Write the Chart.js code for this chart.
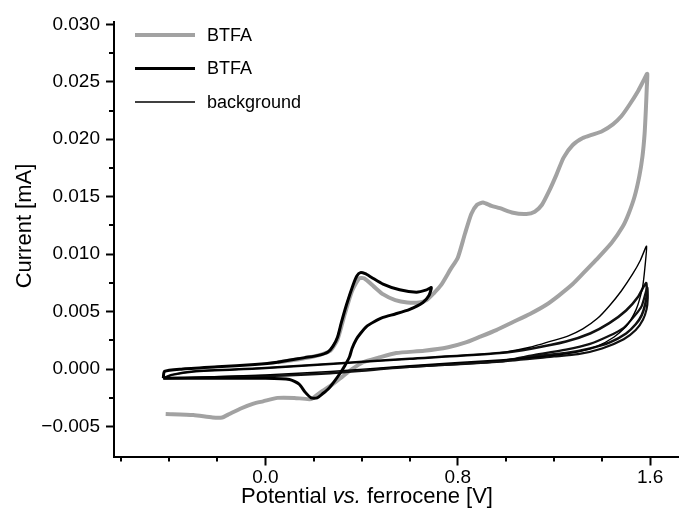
<!DOCTYPE html>
<html>
<head>
<meta charset="utf-8">
<script src="https://cdn.jsdelivr.net/npm/chart.js@4.4.0/dist/chart.umd.min.js"></script>
<style>
  html, body { margin: 0; padding: 0; background: #fff; }
</style>
</head>
<body>
<canvas id="cv" width="679" height="516"></canvas>
<script>
const FONT = '"Liberation Sans", Arial, Helvetica, sans-serif';

// ticks
const xMajorTicks = [0.0, 0.8, 1.6];
const xTickLabels = ["0.0", "0.8", "1.6"];
const xMinorTicks = [-0.6, -0.4, -0.2, 0.2, 0.4, 0.6, 1.0, 1.2, 1.4];
const yMajorTicks = [-0.005, 0.0, 0.005, 0.01, 0.015, 0.02, 0.025, 0.03];
const yTickLabels = ["\u22120.005", "0.000", "0.005", "0.010", "0.015", "0.020", "0.025", "0.030"];
const yMinorTicks = [-0.0025, 0.0025, 0.0075, 0.0125, 0.0175, 0.0225, 0.0275];

// BTFA, full window (grey)
const grayPotential = [0.05, 0.15, 0.22, 0.27, 0.3, 0.33, 0.36, 0.39, 0.41, 0.45, 0.49, 0.54, 0.59, 0.64, 0.67, 0.7, 0.73, 0.77, 0.8, 0.83, 0.856, 0.88, 0.905, 0.94, 0.975, 1.03, 1.085, 1.12, 1.15, 1.18, 1.21, 1.24, 1.278, 1.32, 1.36, 1.4, 1.445, 1.48, 1.514, 1.55, 1.575, 1.588,
  1.586, 1.582, 1.577, 1.568, 1.555, 1.535, 1.51, 1.486, 1.44, 1.375, 1.32, 1.278, 1.22, 1.168, 1.1, 1.03, 0.96, 0.89, 0.83, 0.76, 0.66, 0.544, 0.47, 0.406, 0.36, 0.32, 0.28, 0.23, 0.19, 0.12, 0.05, -0.01, -0.05, -0.1, -0.15, -0.18, -0.22, -0.3, -0.415];
const grayCurrent = [0.0006, 0.0009, 0.0012, 0.0016, 0.0026, 0.0048, 0.0068, 0.0079, 0.0079, 0.0072, 0.0065, 0.006, 0.0058, 0.0058, 0.006, 0.0066, 0.0073, 0.0087, 0.0097, 0.0118, 0.0135, 0.0143, 0.0145, 0.0142, 0.014, 0.0136, 0.0135, 0.0137, 0.0143, 0.0155, 0.0169, 0.0184, 0.0195, 0.0201, 0.0204, 0.0207, 0.0213, 0.022, 0.023, 0.0242, 0.0252, 0.0257,
  0.0245, 0.0225, 0.0205, 0.0185, 0.0168, 0.015, 0.0135, 0.0124, 0.011, 0.0095, 0.0083, 0.0074, 0.0064, 0.0056, 0.0048, 0.0041, 0.0034, 0.0028, 0.0023, 0.0019, 0.0016, 0.0014, 0.001, 0.0006, 0.0, -0.00065, -0.0013, -0.002, -0.0026, -0.0025, -0.0025, -0.0028, -0.003, -0.0034, -0.0039, -0.0042, -0.0042, -0.004, -0.0039];

// BTFA, narrow window (thick black)
const blackPotential = [-0.425, -0.42, -0.35, -0.2, -0.044, 0.05, 0.163, 0.22, 0.26, 0.281, 0.3, 0.315, 0.337, 0.364, 0.38, 0.395, 0.415, 0.44, 0.489, 0.558, 0.628, 0.67, 0.69,
  0.68, 0.655, 0.6, 0.54, 0.489, 0.45, 0.42, 0.395, 0.378, 0.36, 0.35, 0.33, 0.309, 0.285, 0.262, 0.24, 0.215, 0.19, 0.165, 0.14, 0.1, 0.0, -0.2, -0.425];
const blackCurrent = [-0.0008, -0.0002, 0.0, 0.0002, 0.0004, 0.0006, 0.001, 0.0012, 0.0015, 0.002, 0.0028, 0.004, 0.0056, 0.0073, 0.0081, 0.0084, 0.0083, 0.008, 0.0074, 0.0069, 0.0067, 0.0069, 0.0071,
  0.0064, 0.0058, 0.0052, 0.0048, 0.0045, 0.0041, 0.0037, 0.0031, 0.0026, 0.0018, 0.0011, 0.0003, -0.0004, -0.0011, -0.0017, -0.0021, -0.0025, -0.0025, -0.002, -0.0013, -0.0009, -0.0008, -0.0008, -0.0008];

// background (thin)
const bgPotential = [-0.425, -0.39, -0.3, 0.0, 0.3, 0.6, 0.9, 1.0, 1.1, 1.2, 1.26, 1.32, 1.38, 1.43, 1.48, 1.528, 1.56, 1.585,
  1.578, 1.569, 1.555, 1.542, 1.52, 1.5, 1.45, 1.38, 1.3, 1.2, 1.1, 0.975, 0.6, 0.27, 0.0, -0.425];
const bgCurrent = [-0.0008, -0.0005, -0.0002, 0.0001, 0.0005, 0.0009, 0.0013, 0.0015, 0.0019, 0.0025, 0.0029, 0.0035, 0.0044, 0.0055, 0.0068, 0.0083, 0.0095, 0.0107,
  0.0088, 0.0072, 0.006, 0.0052, 0.0043, 0.0037, 0.0028, 0.002, 0.0015, 0.0012, 0.001, 0.0008, 0.0003, -0.0002, -0.0005, -0.0008];

// BTFA wide scans drawn thick, not in legend
const wideAPotential = [-0.425, -0.39, -0.3, 0.0, 0.3, 0.6, 0.975, 1.11, 1.25, 1.35, 1.43, 1.5, 1.55, 1.583,
  1.586, 1.58, 1.565, 1.54, 1.5, 1.43, 1.35, 1.25, 1.11, 0.975, 0.6, 0.27, 0.0, -0.425];
const wideACurrent = [-0.0008, -0.0005, -0.0002, 0.0001, 0.0005, 0.0009, 0.0014, 0.0018, 0.0024, 0.0031, 0.004, 0.0051, 0.0063, 0.0075,
  0.0066, 0.0057, 0.0047, 0.0039, 0.0031, 0.0023, 0.0018, 0.0014, 0.0011, 0.00067, 0.0002, -0.00035, -0.0006, -0.0008];
const wideBPotential = [0.6, 0.975, 1.11, 1.25, 1.35, 1.43, 1.49, 1.53, 1.565, 1.588, 1.59, 1.585, 1.57, 1.54, 1.49, 1.4, 1.3, 1.2, 0.975, 0.6];
const wideBCurrent = [0.0002, 0.0007, 0.0012, 0.0017, 0.0022, 0.0029, 0.0036, 0.0045, 0.0055, 0.0071, 0.0062, 0.0052, 0.0043, 0.0034, 0.0026, 0.0018, 0.0013, 0.0011, 0.00067, 0.0002];

function pts(xs, ys) {
  return xs.map((x, i) => ({ x: x, y: ys[i] }));
}

const minorTicks = {
  id: "minorTicks",
  afterDraw(chart) {
    const c = chart.ctx;
    const xs = chart.scales.x, ys = chart.scales.y;
    c.save();
    c.strokeStyle = "#000";
    c.lineWidth = 2;
    c.beginPath();
    xMinorTicks.forEach((v) => {
      const px = Math.round(xs.getPixelForValue(v));
      c.moveTo(px, xs.top);
      c.lineTo(px, xs.top + 5);
    });
    yMinorTicks.forEach((v) => {
      const py = Math.round(ys.getPixelForValue(v));
      c.moveTo(ys.right, py);
      c.lineTo(ys.right - 5, py);
    });
    c.stroke();
    c.restore();
  },
};

const legendBox = {
  id: "legendBox",
  afterDraw(chart) {
    const c = chart.ctx;
    const rows = chart.data.datasets.filter((d) => d.label);
    c.save();
    c.font = "18px " + FONT;
    c.textBaseline = "middle";
    c.fillStyle = "#000";
    rows.forEach((d, i) => {
      const y = 35 + i * 33.5;
      c.strokeStyle = d.borderColor;
      c.lineWidth = d.borderWidth;
      c.beginPath();
      c.moveTo(135, y);
      c.lineTo(195, y);
      c.stroke();
      c.fillText(d.label, 207, y + 1);
    });
    c.restore();
  },
};

const axisTitles = {
  id: "axisTitles",
  afterDraw(chart) {
    const c = chart.ctx;
    c.save();
    c.fillStyle = "#000";
    c.textBaseline = "middle";
    // y title
    c.font = "22px " + FONT;
    c.translate(25, 226);
    c.rotate(-Math.PI / 2);
    c.textAlign = "center";
    c.fillText("Current [mA]", 0, 0);
    c.restore();

    // x title with italic "vs."
    c.save();
    c.fillStyle = "#000";
    c.textBaseline = "middle";
    const parts = [
      ["Potential ", "22px " + FONT],
      ["vs.", "italic 22px " + FONT],
      [" ferrocene [V]", "22px " + FONT],
    ];
    let total = 0;
    parts.forEach((p) => { c.font = p[1]; total += c.measureText(p[0]).width; });
    let x = 367 - total / 2;
    parts.forEach((p) => {
      c.font = p[1];
      c.fillText(p[0], x, 497);
      x += c.measureText(p[0]).width;
    });
    c.restore();
  },
};

const lineStyle = { showLine: true, pointRadius: 0, fill: false, tension: 0.2 };

new Chart(document.getElementById("cv").getContext("2d"), {
  type: "scatter",
  data: {
    datasets: [
      { ...lineStyle, label: "BTFA", data: pts(grayPotential, grayCurrent), borderColor: "#a2a2a2", borderWidth: 4, order: 4 },
      { ...lineStyle, label: "BTFA", data: pts(blackPotential, blackCurrent), borderColor: "#000", borderWidth: 3, order: 1 },
      { ...lineStyle, label: "background", data: pts(bgPotential, bgCurrent), borderColor: "#000", borderWidth: 1.4, order: 2 },
      { ...lineStyle, label: "", data: pts(wideAPotential, wideACurrent), borderColor: "#111", borderWidth: 2.5, order: 3 },
      { ...lineStyle, label: "", data: pts(wideBPotential, wideBCurrent), borderColor: "#111", borderWidth: 2.2, order: 3 },
    ],
  },
  options: {
    responsive: false,
    animation: false,
    layout: { padding: { top: 22, right: 0, bottom: 0, left: 0 } },
    plugins: { legend: { display: false }, tooltip: { enabled: false } },
    scales: {
      x: {
        type: "linear",
        min: -0.63,
        max: 1.72,
        afterFit: (s) => { s.height = 59.5; },
        afterBuildTicks: (s) => { s.ticks = xMajorTicks.map((v) => ({ value: v })); },
        ticks: {
          callback: (v, i) => xTickLabels[i],
          font: { size: 19, family: FONT },
          color: "#000",
          padding: 1,
          maxRotation: 0,
          autoSkip: false,
        },
        grid: { drawOnChartArea: false, drawTicks: true, tickLength: 9, tickWidth: 2, tickColor: "#000" },
        border: { display: true, color: "#000", width: 2 },
      },
      y: {
        type: "linear",
        min: -0.0076,
        max: 0.0302,
        afterFit: (s) => { s.width = 114; },
        afterBuildTicks: (s) => { s.ticks = yMajorTicks.map((v) => ({ value: v })); },
        ticks: {
          callback: (v, i) => yTickLabels[i],
          font: { size: 19, family: FONT },
          color: "#000",
          padding: 6,
          autoSkip: false,
        },
        grid: { drawOnChartArea: false, drawTicks: true, tickLength: 8, tickWidth: 2, tickColor: "#000" },
        border: { display: true, color: "#000", width: 2 },
      },
    },
  },
  plugins: [minorTicks, legendBox, axisTitles],
});
</script>
</body>
</html>
